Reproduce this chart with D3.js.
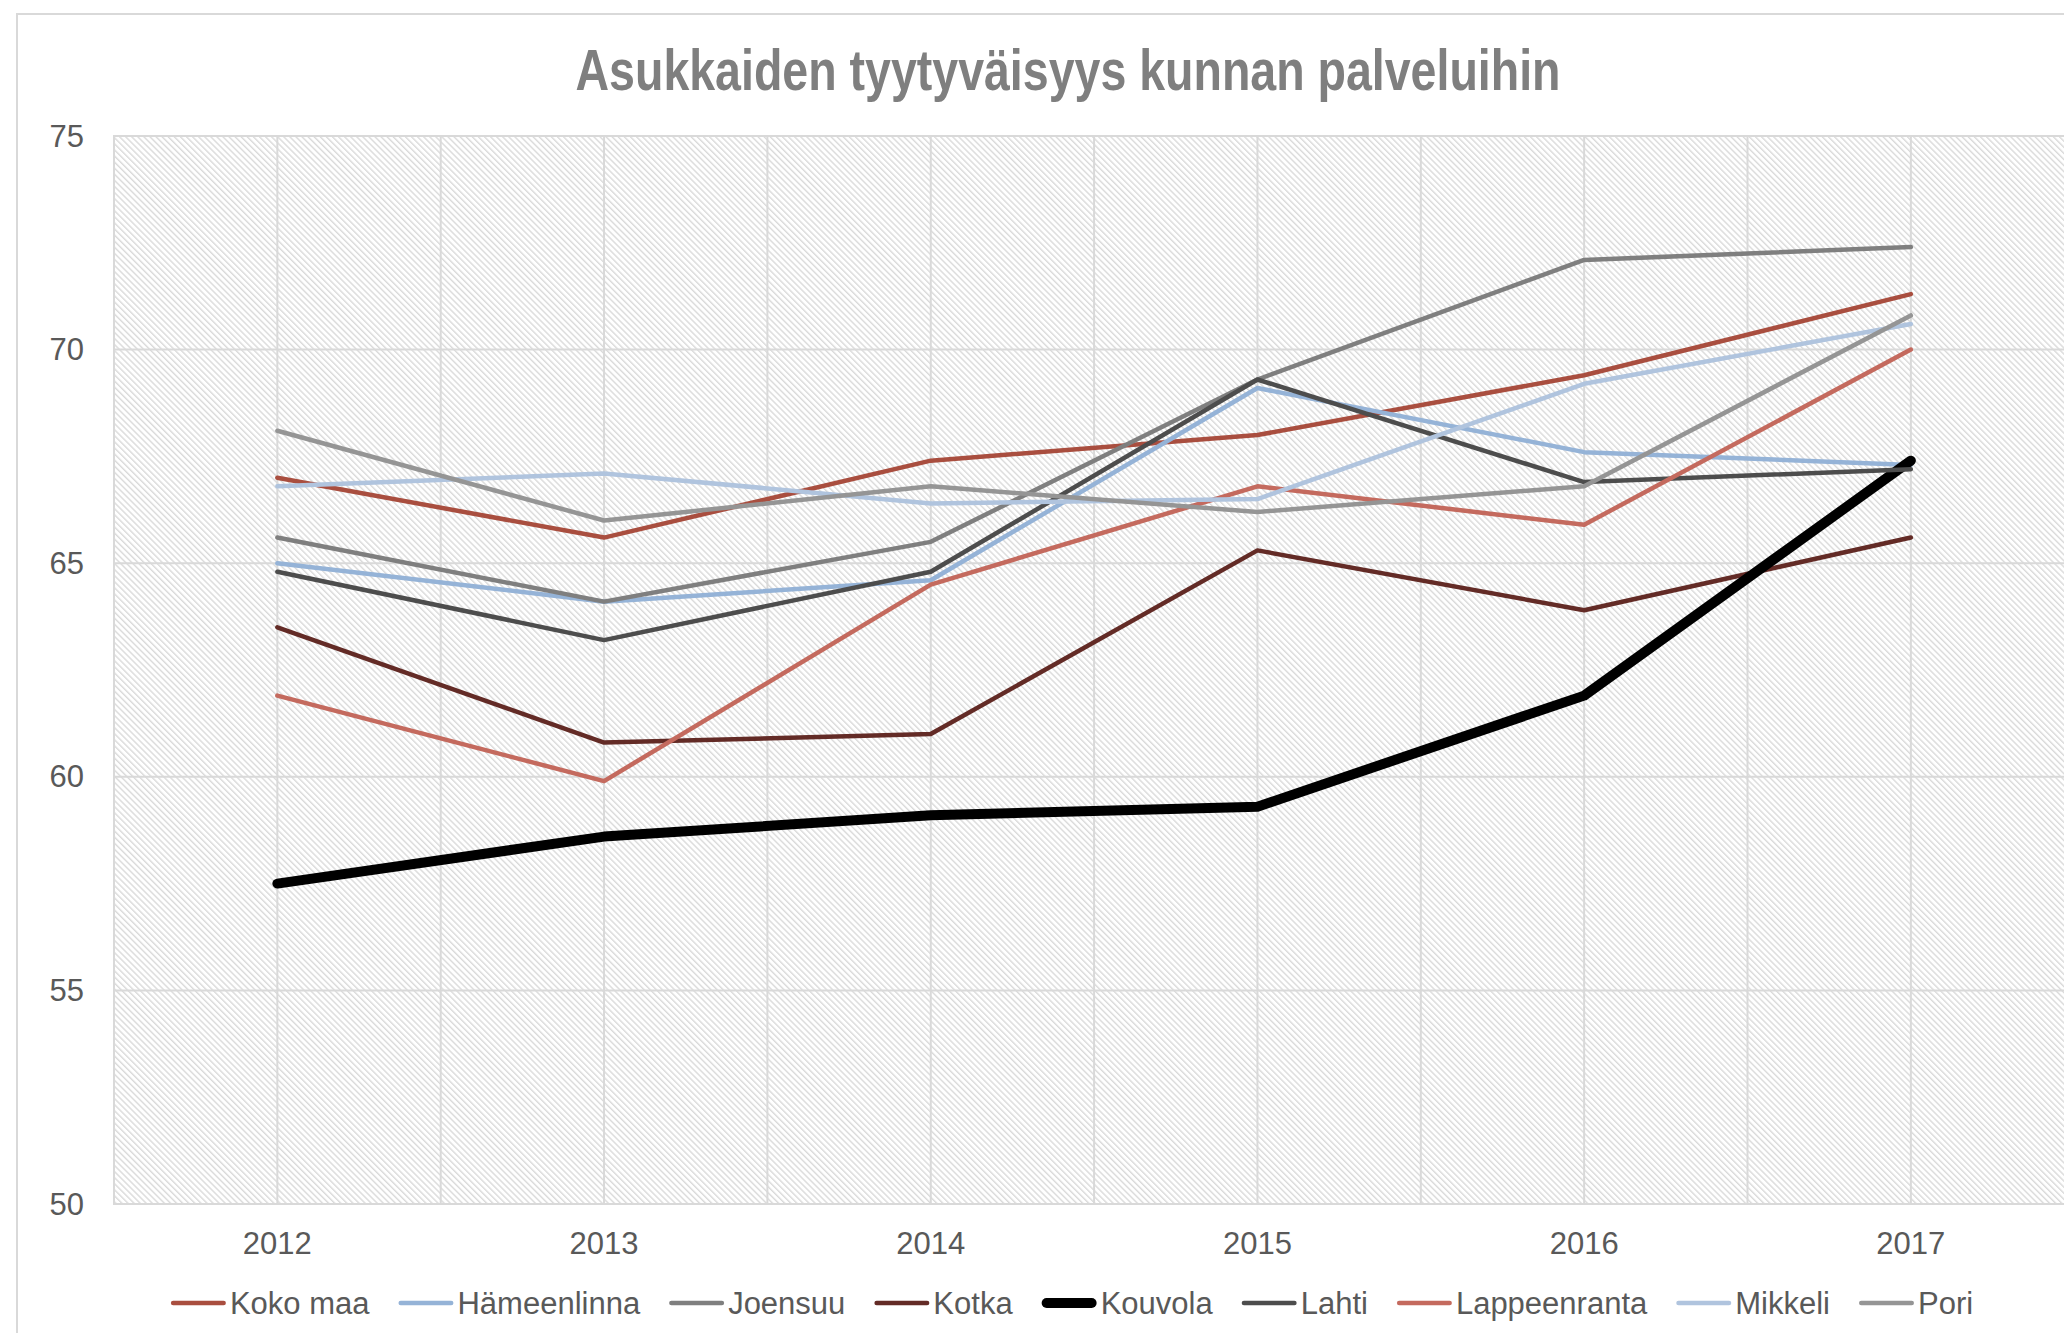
<!DOCTYPE html>
<html>
<head>
<meta charset="utf-8">
<script src="https://cdn.jsdelivr.net/npm/d3@7"></script>
<style>
  body { margin: 0; background: #fff; }
  svg text { font-family: "Liberation Sans", Arial, sans-serif; }
</style>
</head>
<body>
<svg id="chart"></svg>
<script>
const width = 2064;
const height = 1333;

// data
const years = ['2012', '2013', '2014', '2015', '2016', '2017'];
const seriesNames = ['Koko maa', 'Hämeenlinna', 'Joensuu', 'Kotka', 'Kouvola', 'Lahti', 'Lappeenranta', 'Mikkeli', 'Pori'];
const kokoMaa = [67.0, 65.6, 67.4, 68.0, 69.4, 71.3];
const hameenlinna = [65.0, 64.1, 64.6, 69.1, 67.6, 67.3];
const joensuu = [65.6, 64.1, 65.5, 69.3, 72.1, 72.4];
const kotka = [63.5, 60.8, 61.0, 65.3, 63.9, 65.6];
const kouvola = [57.5, 58.6, 59.1, 59.3, 61.9, 67.4];
const lahti = [64.8, 63.2, 64.8, 69.3, 66.9, 67.2];
const lappeenranta = [61.9, 59.9, 64.5, 66.8, 65.9, 70.0];
const mikkeli = [66.8, 67.1, 66.4, 66.5, 69.2, 70.6];
const pori = [68.1, 66.0, 66.8, 66.2, 66.8, 70.8];
const yTicks = [50, 55, 60, 65, 70, 75];

const seriesValues = [kokoMaa, hameenlinna, joensuu, kotka, kouvola, lahti, lappeenranta, mikkeli, pori];
const colors = ['#a94e3f', '#95b3d7', '#7f7f7f', '#632b26', '#000000', '#4d4d4d', '#c46a5e', '#b0c4de', '#959595'];
const widths = [4.5, 4.5, 4.5, 4.5, 10, 4.5, 4.5, 4.5, 4.5];

const series = seriesNames.map((name, i) => ({
  name: name,
  values: seriesValues[i],
  color: colors[i],
  w: widths[i]
}));

const svg = d3.select('#chart').attr('width', width).attr('height', height);

// plot area
const plot = { left: 114, top: 136, bottom: 1204 };
const band = 326.7;
plot.right = plot.left + band * years.length;

const x = d3.scaleBand().domain(years).range([plot.left, plot.right]);
const y = d3.scaleLinear().domain([50, 75]).range([plot.bottom, plot.top]);

// outer frame
svg.append('rect')
  .attr('x', 17).attr('y', 14)
  .attr('width', 2140).attr('height', 1400)
  .attr('fill', '#fff')
  .attr('stroke', '#d9d9d9')
  .attr('stroke-width', 2);

// hatch fill
const defs = svg.append('defs');
const pat = defs.append('pattern')
  .attr('id', 'hatch')
  .attr('patternUnits', 'userSpaceOnUse')
  .attr('width', 4.3).attr('height', 4.3)
  .attr('patternTransform', 'rotate(-45)');
pat.append('rect').attr('width', 4.3).attr('height', 4.3).attr('fill', '#fff');
pat.append('rect').attr('x', 0).attr('width', 1.4).attr('height', 4.3).attr('fill', '#dadada');

svg.append('rect')
  .attr('x', plot.left).attr('y', plot.top)
  .attr('width', plot.right - plot.left).attr('height', plot.bottom - plot.top)
  .attr('fill', 'url(#hatch)')
  .attr('stroke', '#d9d9d9')
  .attr('stroke-width', 2);

// vertical gridlines: category centres and boundaries
const vLines = [];
years.forEach(yr => {
  vLines.push(x(yr));
  vLines.push(x(yr) + x.bandwidth() / 2);
});
svg.append('g').selectAll('line.vg')
  .data(vLines)
  .enter().append('line')
  .attr('x1', d => d).attr('x2', d => d)
  .attr('y1', plot.top).attr('y2', plot.bottom)
  .attr('stroke', '#d9d9d9').attr('stroke-width', 2);

// horizontal gridlines
svg.append('g').selectAll('line.hg')
  .data(yTicks)
  .enter().append('line')
  .attr('x1', plot.left).attr('x2', plot.right)
  .attr('y1', d => y(d)).attr('y2', d => y(d))
  .attr('stroke', '#d9d9d9').attr('stroke-width', 2);

// y labels
svg.append('g').selectAll('text')
  .data(yTicks)
  .enter().append('text')
  .attr('x', 84)
  .attr('y', d => y(d))
  .attr('text-anchor', 'end')
  .attr('dominant-baseline', 'central')
  .style('font-size', '31px')
  .style('fill', '#595959')
  .text(d => d);

// x labels
svg.append('g').selectAll('text')
  .data(years)
  .enter().append('text')
  .attr('x', d => x(d) + x.bandwidth() / 2)
  .attr('y', 1254)
  .attr('text-anchor', 'middle')
  .style('font-size', '31px')
  .style('fill', '#595959')
  .text(d => d);

// lines
const line = d3.line()
  .x((d, i) => x(years[i]) + x.bandwidth() / 2)
  .y(d => y(d));

svg.append('g').selectAll('path')
  .data(series)
  .enter().append('path')
  .attr('d', d => line(d.values))
  .attr('fill', 'none')
  .attr('stroke', d => d.color)
  .attr('stroke-width', d => d.w)
  .attr('stroke-linejoin', 'round')
  .attr('stroke-linecap', 'round');

// title
svg.append('text')
  .attr('x', 1068)
  .attr('y', 90)
  .attr('text-anchor', 'middle')
  .attr('textLength', 985)
  .attr('lengthAdjust', 'spacingAndGlyphs')
  .style('font-family', '"Liberation Sans Narrow", "Liberation Sans", Arial, sans-serif')
  .style('font-weight', 'bold')
  .style('font-size', '57px')
  .style('fill', '#7f7f7f')
  .text('Asukkaiden tyytyväisyys kunnan palveluihin');

// legend
const lgd = svg.append('g');
const swatch = 55, gapIn = 4, gapOut = 29;
let cx = 0;
series.forEach(s => {
  const it = lgd.append('g').attr('transform', `translate(${cx},0)`);
  it.append('line')
    .attr('x1', s.w / 2).attr('x2', swatch - s.w / 2)
    .attr('y1', 1303).attr('y2', 1303)
    .attr('stroke', s.color)
    .attr('stroke-width', s.w)
    .attr('stroke-linecap', 'round');
  const t = it.append('text')
    .attr('x', swatch + gapIn)
    .attr('y', 1314)
    .style('font-size', '31px')
    .style('fill', '#595959')
    .text(s.name);
  cx += swatch + gapIn + t.node().getComputedTextLength() + gapOut;
});
const total = cx - gapOut;
lgd.attr('transform', `translate(${1072 - total / 2},0)`);
</script>
</body>
</html>
